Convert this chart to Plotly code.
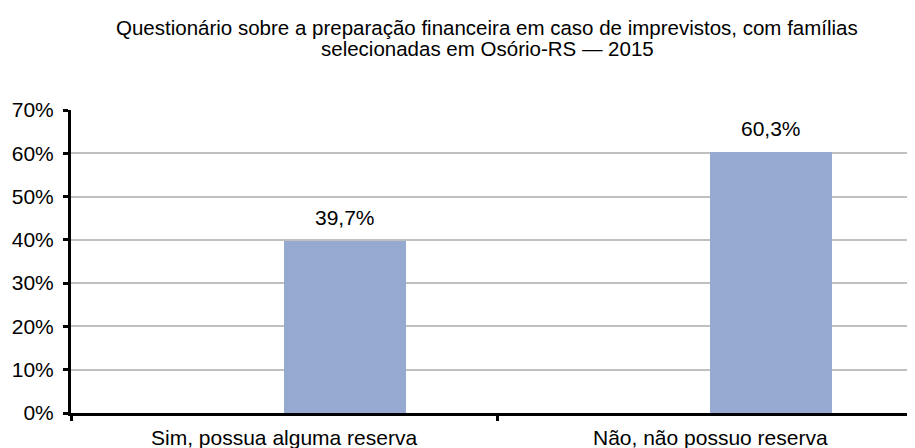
import plotly.graph_objects as go

categories = ["Sim, possua alguma reserva", "Não, não possuo reserva"]
values = [0.397, 0.603]
value_labels = ["39,7%", "60,3%"]
y_tickvals = [0, 0.1, 0.2, 0.3, 0.4, 0.5, 0.6, 0.7]
y_ticktext = ["0%", "10%", "20%", "30%", "40%", "50%", "60%", "70%"]
title_lines = ["Questionário sobre a preparação financeira em caso de imprevistos, com famílias",
               "selecionadas em Osório-RS — 2015"]

BAR_W = 0.285
FONT = "Liberation Sans, Arial, sans-serif"
ML, MT, MB, MR = 62.5, 102, 42.5, 8
H = 448
PLOT_H = H - MT - MB


def paper_y(fig_y):
    return 1 + (MT - fig_y) / PLOT_H


fig = go.Figure()
fig.add_trace(go.Bar(
    x=categories, y=values, width=BAR_W, offset=0,
    marker=dict(color="#95A9D1", line=dict(width=0)),
    hoverinfo="skip", showlegend=False,
))

# data labels above bars
for i, (v, t) in enumerate(zip(values, value_labels)):
    fig.add_annotation(x=i + BAR_W / 2, y=v, xref="x", yref="y", text=t,
                       showarrow=False, yanchor="bottom", yshift=10,
                       font=dict(family=FONT, size=21, color="#000000"))

# category labels
for i, c in enumerate(categories):
    fig.add_annotation(x=i, y=0, xref="x", yref="paper", text=c,
                       showarrow=False, yanchor="middle", yshift=-24.5,
                       font=dict(family=FONT, size=21, color="#000000"))

# title (two lines)
for line, fy in zip(title_lines, [19, 40]):
    fig.add_annotation(x=(479 - ML) / (915 - ML - MR), y=paper_y(fy), xref="paper", yref="paper",
                       text=line, showarrow=False, xanchor="center", yanchor="middle",
                       font=dict(family=FONT, size=20.5, color="#000000"))

fig.update_layout(
    width=915, height=H,
    paper_bgcolor="white", plot_bgcolor="white",
    margin=dict(l=ML, r=MR, t=MT, b=MB, autoexpand=False),
    bargap=0,
    font=dict(family=FONT, size=21, color="#000000"),
)
fig.update_xaxes(
    range=[-0.5, 1.48], showgrid=False, showline=True, linecolor="#000000", linewidth=3,
    ticks="outside", tickson="boundaries", ticklen=5, tickwidth=3, tickcolor="#000000",
    showticklabels=False, zeroline=False, fixedrange=True,
)
fig.update_yaxes(
    range=[0, 0.7], tickvals=y_tickvals, ticktext=y_ticktext,
    showgrid=True, gridcolor="#C0C0C0", gridwidth=1.5,
    showline=True, linecolor="#000000", linewidth=3,
    ticks="outside", ticklen=5, tickwidth=3, tickcolor="#000000",
    ticklabelstandoff=5,
    tickfont=dict(family=FONT, size=21, color="#000000"),
    zeroline=False, fixedrange=True,
)

fig.write_html("out.html")
